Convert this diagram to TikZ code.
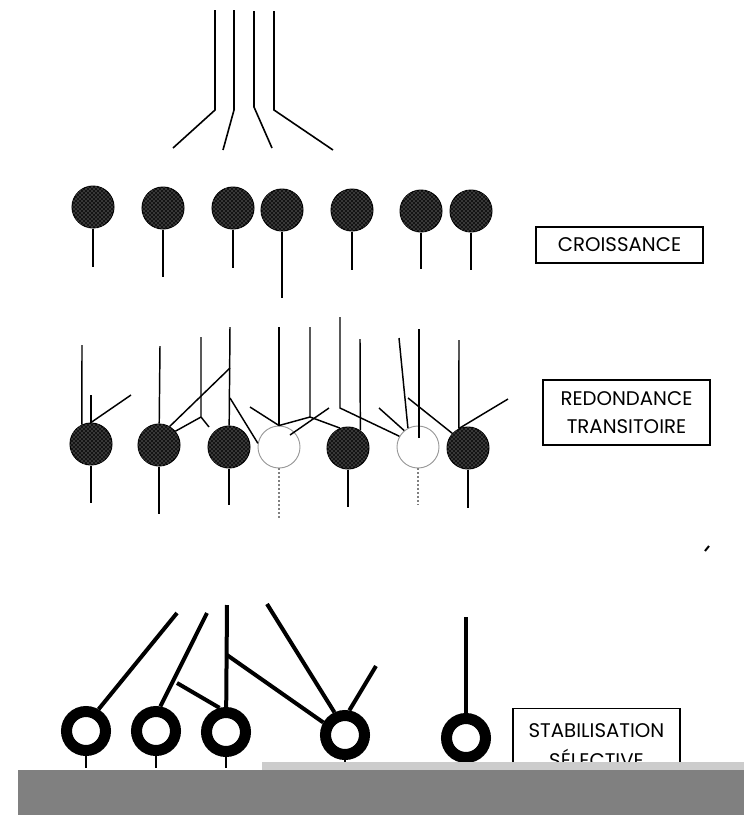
\documentclass[tikz,border=0pt]{standalone}
\usepackage{fontspec}
\setmainfont{Poppins}
\usetikzlibrary{patterns}

\tikzset{every picture/.style={line width=0.75pt},
  cell/.style={circle,draw,inner sep=0pt,minimum size=31.5pt,fill=black!92,postaction={pattern=crosshatch dots,pattern color=gray!60}},
  pale cell/.style={circle,draw=gray!80,line width=0.7pt,inner sep=0pt,minimum size=31.5pt,fill=white},
  ring/.style={circle,draw,line width=8.25pt,inner sep=0pt,minimum size=29.25pt},
  stage box/.style={draw,line width=1.1pt,inner sep=0pt,minimum width=125pt,align=center,font=\fontsize{14.8}{21}\selectfont},
  fibre/.style={line width=1.2pt},
  axon/.style={line width=1.1pt},
  thick axon/.style={line width=3pt},
  dead stem/.style={gray,dotted,line width=1pt}}

\begin{document}
\begin{tikzpicture}[x=0.75pt,y=0.75pt,yscale=-1,xscale=1]
\useasboundingbox (0,0) rectangle (744,815);

% Incoming fibres
\coordinate (t1) at (215,10); \coordinate (k1) at (215,110); \coordinate (e1) at (173,148);
\coordinate (t2) at (234,10); \coordinate (k2) at (234,110); \coordinate (e2) at (223,150);
\coordinate (t3) at (254,11); \coordinate (k3) at (254,107); \coordinate (e3) at (272,148);
\coordinate (t4) at (274,11); \coordinate (k4) at (274,110); \coordinate (e4) at (333,150);
\draw[fibre] (t1) -- (k1) -- (e1) ;
\draw[fibre] (t2) -- (k2) -- (e2) ;
\draw[fibre] (t3) -- (k3) -- (e3) ;
\draw[fibre] (t4) -- (k4) -- (e4) ;

% Row 1 : croissance
\node[cell] (c1) at (93,207) {};
\node[cell] (c2) at (163,208) {};
\node[cell] (c3) at (233,208) {};
\node[cell] (c4) at (282,210) {};
\node[cell] (c5) at (352,210) {};
\node[cell] (c6) at (421,211) {};
\node[cell] (c7) at (471,211) {};
\coordinate (u1) at (93,267);
\coordinate (u2) at (163,277);
\coordinate (u3) at (233,268);
\coordinate (u4) at (282,298);
\coordinate (u5) at (352,270);
\coordinate (u6) at (421,269);
\coordinate (u7) at (471,270);
\draw[axon] (c1) -- (u1) ;
\draw[axon] (c2) -- (u2) ;
\draw[axon] (c3) -- (u3) ;
\draw[axon] (c4) -- (u4) ;
\draw[axon] (c5) -- (u5) ;
\draw[axon] (c6) -- (u6) ;
\draw[axon] (c7) -- (u7) ;

% Row 2 : redondance transitoire
\node[cell] (r1) at (91,444) {};
\node[cell] (r2) at (159,445) {};
\node[cell] (r3) at (229,447) {};
\node[pale cell] (r4) at (279,447) {};
\node[cell] (r5) at (348,448) {};
\node[pale cell] (r6) at (418,447) {};
\node[cell] (r7) at (468,448) {};
\coordinate (v1) at (91,503);
\coordinate (v2) at (159,514);
\coordinate (v3) at (229,505);
\coordinate (v4) at (279,518);
\coordinate (v5) at (348,507);
\coordinate (v6) at (418,505);
\coordinate (v7) at (468,508);
\draw[axon] (r1) -- (v1) ;
\draw[axon] (r2) -- (v2) ;
\draw[axon] (r3) -- (v3) ;
\draw[dead stem] (r4) -- (v4) ;
\draw[axon] (r5) -- (v5) ;
\draw[dead stem] (r6) -- (v6) ;
\draw[axon] (r7) -- (v7) ;

% Row 2 : terminals
\coordinate (a1) at (82,345);
\coordinate (a2) at (91,395);
\coordinate (a3) at (131,395);
\coordinate (a4) at (160,346);
\coordinate (a5) at (230,327);
\coordinate (a6) at (230,368);
\coordinate (a7) at (230,398);
\coordinate (a8) at (201,337);
\coordinate (a9) at (201,417);
\coordinate (a10) at (209,427);
\coordinate (a11) at (279,327);
\coordinate (a12) at (250,407);
\coordinate (a13) at (310,327);
\coordinate (a14) at (310,417);
\coordinate (a15) at (329,408);
\coordinate (a16) at (290,435);
\coordinate (a17) at (340,317);
\coordinate (a18) at (340,408);
\coordinate (a19) at (360,339);
\coordinate (a20) at (399,338);
\coordinate (a21) at (419,329);
\coordinate (a22) at (419,438);
\coordinate (a23) at (379,408);
\coordinate (a24) at (408,398);
\coordinate (a25) at (459,340);
\coordinate (a26) at (508,399);
\draw[axon] (a1) -- (r1.115) ;
\draw[axon] (a2) -- (r1) ;
\draw[axon] (a3) -- (r1.north) ;
\draw[axon] (a4) -- (r2) ;
\draw[axon] (a6) -- (r2.60) ;
\draw[axon] (a8) -- (a9) -- (r2.40) ;
\draw[axon] (a9) -- (a10) ;
\draw[axon] (a5) -- (r3) ;
\draw[axon] (a7) -- (r4.170) ;
\draw[axon] (a11) -- (r4) ;
\draw[axon] (a12) -- (r4.north) ;
\draw[axon] (a13) -- (a14) -- (r4.north) ;
\draw[axon] (a14) -- (r5.112) ;
\draw[axon] (a15) -- (a16) ;
\draw[axon] (a17) -- (a18) -- (r6.150) ;
\draw[axon] (a19) -- (r5.55) ;
\draw[axon] (a20) -- (r6.118) ;
\draw[axon] (a21) -- (a22) ;
\draw[axon] (a23) -- (r6.130) ;
\draw[axon] (a24) -- (r7.137) ;
\draw[axon] (a25) -- (r7.115) ;
\draw[axon] (a26) -- (r7.115) ;

% Row 3 : stabilisation selective
\node[ring] (s1) at (86,731) {};
\node[ring] (s2) at (156,731) {};
\node[ring] (s3) at (226,732) {};
\node[ring] (s4) at (345,735) {};
\node[ring] (s5) at (466,738) {};
\coordinate (w1) at (86,768);
\coordinate (w2) at (156,768);
\coordinate (w3) at (226,768);
\coordinate (w4) at (345,768);
\coordinate (w5) at (466,768);
\draw[line width=1.5pt] (s1) -- (w1) ;
\draw[line width=1.5pt] (s2) -- (w2) ;
\draw[line width=1.5pt] (s3) -- (w3) ;
\draw[line width=1.5pt] (s4) -- (w4) ;
\draw[line width=1.5pt] (s5) -- (w5) ;
\coordinate (b1) at (177,613);
\coordinate (b2) at (207,613);
\coordinate (b3) at (227,605);
\coordinate (b4) at (227,655);
\coordinate (b5) at (177,683);
\coordinate (b6) at (267,604);
\coordinate (b7) at (376,666);
\coordinate (b8) at (466,617);
\draw[thick axon] (b1) -- (s1.60) ;
\draw[thick axon] (b2) -- (s2.80) ;
\draw[thick axon] (b3) -- (s3) ;
\draw[thick axon] (b4) -- (s4.150) ;
\draw[thick axon] (b5) -- (s3.105) ;
\draw[thick axon] (b6) -- (s4.115) ;
\draw[thick axon] (b7) -- (s4.80) ;
\draw[thick axon] (b8) -- (s5) ;

% stray mark
\coordinate (m1) at (705,551); \coordinate (m2) at (709,546);
\draw[line width=1.5pt] (m1) -- (m2) ;

% Text Node
\node[stage box,minimum height=27pt] (croissance) at (619.5,245) {CROISSANCE};
% Text Node
\node[stage box,minimum height=48.75pt] (redondance) at (626.5,412.5) {REDONDANCE\\TRANSITOIRE};
% Text Node
\node[stage box,minimum height=56pt,font=\fontsize{14.8}{22.5}\selectfont] (stabilisation) at (596.5,746) {STABILISATION\\SÉLECTIVE};

% scan band
\fill[gray!40] (262,762) rectangle (744,770);
\fill[gray] (18,770) rectangle (744,815);

\end{tikzpicture}
\end{document}
